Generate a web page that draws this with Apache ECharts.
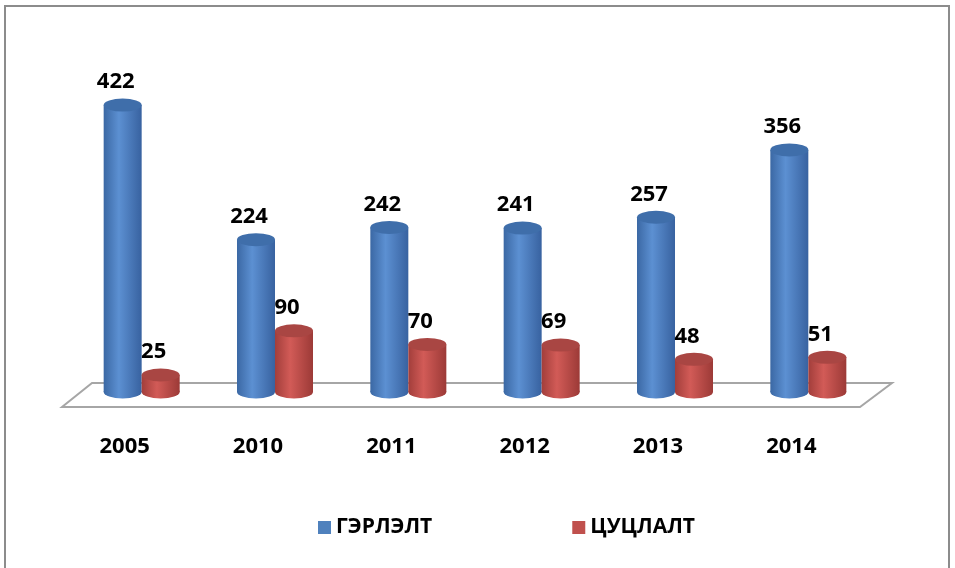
<!DOCTYPE html>
<html>
<head>
<meta charset="utf-8">
<script src="https://cdn.jsdelivr.net/npm/echarts@6/dist/echarts.min.js"></script>
<style>
  html, body { margin: 0; padding: 0; background: #fff; }
  #main { width: 955px; height: 568px; }
</style>
</head>
<body>
<div id="main"></div>
<script>
// 数据
var years = ["2005", "2010", "2011", "2012", "2013", "2014"];
var gerlelt = [422, 224, 242, 241, 257, 356];
var tsutslalt = [25, 90, 70, 69, 48, 51];
var seriesNames = ["ГЭРЛЭЛТ", "ЦУЦЛАЛТ"];

var FONT = "'Open Sans', 'Noto Sans', sans-serif";
var W = 38; // cylinder width

function bodyGrad(dark, light, dark2) {
  return new echarts.graphic.LinearGradient(0, 0, 1, 0, [
    { offset: 0, color: dark },
    { offset: 0.4, color: light },
    { offset: 1, color: dark2 }
  ]);
}
var blueBody = bodyGrad("#3B68A4", "#5C90D2", "#3862A0");
var redBody = bodyGrad("#A23E3B", "#D25B57", "#9C3A37");

var chart = echarts.init(document.getElementById("main"));

var option = {
  backgroundColor: "#fff",
  animation: false,
  graphic: [
    {
      // 外框
      type: "rect",
      z: 0,
      shape: { x: 5, y: 6, width: 944, height: 580 },
      style: { fill: "#fff", stroke: "#8C8C8C", lineWidth: 2 }
    },
    {
      // 底面
      type: "polygon",
      z: 1,
      shape: { points: [[62, 407], [92, 383], [892, 383], [860, 407]] },
      style: { fill: "#fff", stroke: "#A6A6A6", lineWidth: 2 }
    }
  ],
  legend: {
    data: [
      { name: seriesNames[0], itemStyle: { color: "#4F81BD" } },
      { name: seriesNames[1], itemStyle: { color: "#C0504D" } }
    ],
    left: 313,
    top: 512,
    icon: "rect",
    itemWidth: 13,
    itemHeight: 13,
    itemGap: 140,
    textStyle: { fontFamily: FONT, fontWeight: "bold", fontSize: 21, color: "#000" }
  },
  grid: { left: 75, right: 80, top: 86, bottom: 176 },
  xAxis: {
    type: "category",
    data: years,
    axisLine: { show: false },
    axisTick: { show: false },
    axisLabel: {
      margin: 44,
      padding: [0, 34, 0, 0],
      fontFamily: FONT,
      fontWeight: "bold",
      fontSize: 22,
      color: "#000"
    }
  },
  yAxis: {
    type: "value",
    min: 0,
    max: 450,
    show: false,
    splitLine: { show: false }
  },
  series: [
    {
      name: seriesNames[0],
      type: "bar",
      data: gerlelt,
      barWidth: W,
      barGap: "0%",
      itemStyle: { color: blueBody },
      label: {
        show: true,
        position: "top",
        distance: 12,
        offset: [-7, 0],
        fontFamily: FONT,
        fontWeight: "bold",
        fontSize: 22,
        color: "#000"
      }
    },
    {
      name: seriesNames[1],
      type: "bar",
      data: tsutslalt,
      barWidth: W,
      barGap: "0%",
      itemStyle: { color: redBody },
      label: {
        show: true,
        position: "top",
        distance: 12,
        offset: [-7, 0],
        fontFamily: FONT,
        fontWeight: "bold",
        fontSize: 22,
        color: "#000"
      }
    },
    // 底部椭圆
    {
      type: "pictorialBar",
      data: gerlelt,
      symbol: "circle",
      symbolSize: [W, 13],
      symbolPosition: "start",
      symbolOffset: [-W / 2, "50%"],
      barGap: "-100%",
      itemStyle: { color: blueBody },
      z: 1.5,
      tooltip: { show: false }
    },
    {
      type: "pictorialBar",
      data: tsutslalt,
      symbol: "circle",
      symbolSize: [W, 13],
      symbolPosition: "start",
      symbolOffset: [W / 2, "50%"],
      barGap: "-100%",
      itemStyle: { color: redBody },
      z: 1.5,
      tooltip: { show: false }
    },
    // 顶部椭圆
    {
      type: "pictorialBar",
      data: gerlelt,
      symbol: "circle",
      symbolSize: [W, 13],
      symbolPosition: "end",
      symbolOffset: [-W / 2, "-50%"],
      barGap: "-100%",
      itemStyle: { color: "#3F6EAA" },
      z: 3
    },
    {
      type: "pictorialBar",
      data: tsutslalt,
      symbol: "circle",
      symbolSize: [W, 13],
      symbolPosition: "end",
      symbolOffset: [W / 2, "-50%"],
      barGap: "-100%",
      itemStyle: { color: "#A94643" },
      z: 3
    }
  ]
};

chart.setOption(option);
</script>
</body>
</html>
